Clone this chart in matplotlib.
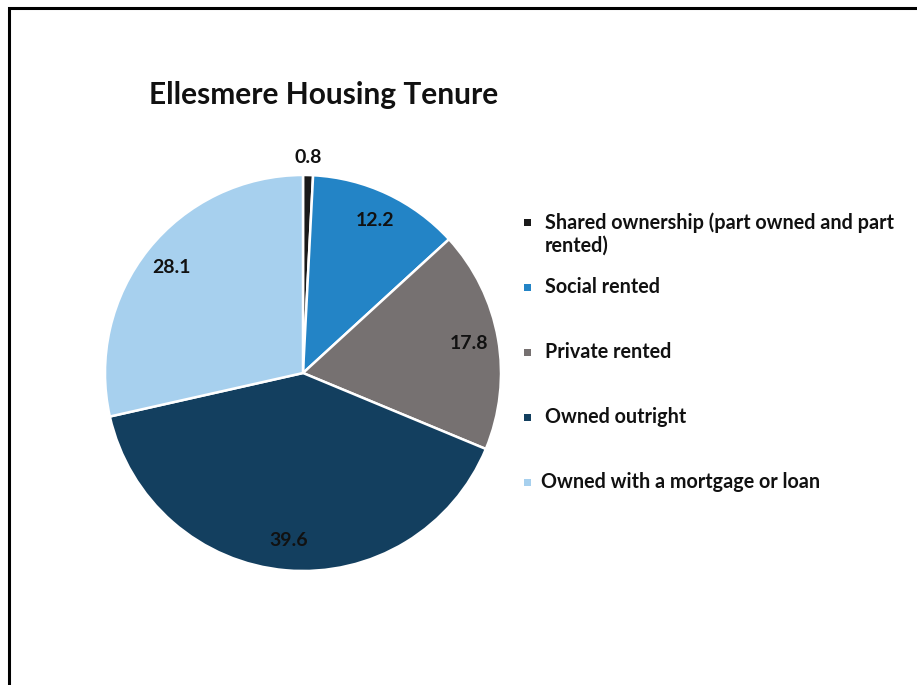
import matplotlib
matplotlib.use("Agg")
import matplotlib.pyplot as plt
from matplotlib.patches import Rectangle
import numpy as np

plt.rcParams['font.family'] = ['Lato', 'DejaVu Sans']

categories = ["Shared ownership (part owned and part\nrented)", "Social rented",
              "Private rented", "Owned outright", "Owned with a mortgage or loan"]
values = [0.8, 12.2, 17.8, 39.6, 28.1]
colors = ["#1a1a1a", "#2384C6", "#767171", "#133F5F", "#A7D0EE"]
title = "Ellesmere Housing Tenure"

W, H = 917, 685
fig = plt.figure(figsize=(W / 100, H / 100), dpi=100)

cx, cy, r = 303, 373, 198
ax = fig.add_axes([(cx - r) / W, (H - cy - r) / H, 2 * r / W, 2 * r / H])
wedges, _ = ax.pie(values, colors=colors, startangle=90, counterclock=False,
                   wedgeprops=dict(edgecolor="white", linewidth=1.8))
ax.set_xlim(-1, 1)
ax.set_ylim(-1, 1)
ax.set_aspect('auto')
ax.axis('off')

for w, v in zip(wedges, values):
    mid = np.deg2rad((w.theta1 + w.theta2) / 2)
    d = 1.09 if v < 2 else 0.85
    ax.text(d * np.cos(mid), d * np.sin(mid), f"{v:.1f}", ha="center", va="center",
            fontsize=14, fontweight="bold", color="#111111")

fig.text(324 / W, 1 - 95 / H, title, ha="center", va="center",
         fontsize=21.5, fontweight="bold", color="#111111")

# legend
ys = [222, 287, 352, 417, 482]
for y, lab, c in zip(ys, categories, colors):
    fig.patches.append(Rectangle((524 / W, 1 - (y + 4) / H), 7 / W, 7 / H,
                                 transform=fig.transFigure, facecolor=c, edgecolor="none"))
    xt = 541 if lab.startswith("Owned with") else 545
    yc = y + 12 if "\n" in lab else y
    fig.text(xt / W, 1 - yc / H, lab, ha="left", va="center",
             fontsize=14.2, fontweight="bold", color="#111111", linespacing=1.22)

# frame border
fig.patches.append(Rectangle((9 / W, -0.1), 1.2, 1 - 8 / H + 0.1, transform=fig.transFigure,
                             facecolor="none", edgecolor="black", linewidth=2.2))

fig.savefig("out.png", dpi=100, facecolor="white")
